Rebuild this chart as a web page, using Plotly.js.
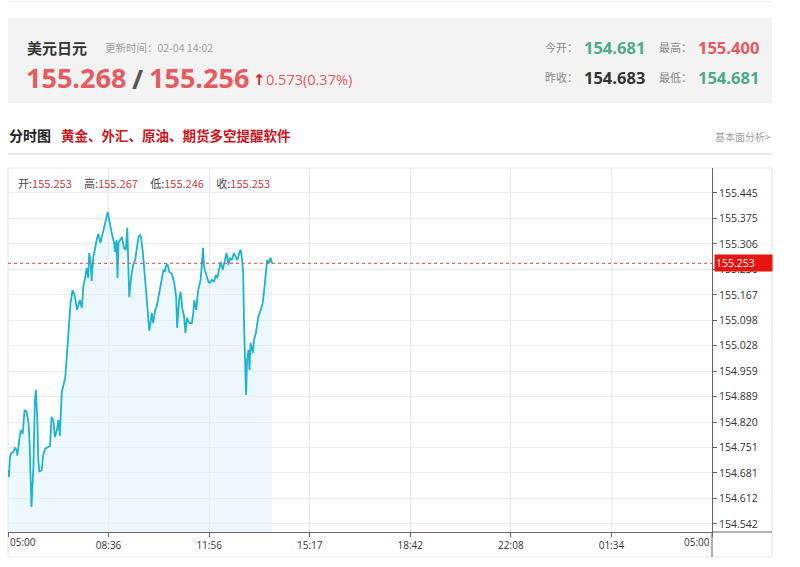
<!DOCTYPE html>
<html>
<head>
<meta charset="utf-8">
<script src="https://cdn.plot.ly/plotly-3.0.1.min.js"></script>
<style>
  html, body { margin: 0; padding: 0; background: #fff; }
  #chart { width: 800px; height: 567px; }
</style>
</head>
<body>
<div id="chart"></div>
<script>
// ---- data (minutes after 05:00, price) ----
const minutes = [
  0, 2, 4, 7, 11, 14, 18, 19, 23, 26,
  30, 34, 38, 42, 44, 46, 48, 52, 55, 57,
  60, 62, 64, 69, 72, 76, 82, 86, 89, 93,
  96, 100, 103, 106, 110, 113, 117, 120, 123, 125,
  128, 132, 134, 137, 141, 144, 147, 151, 154, 158,
  161, 164, 166, 169, 171, 174, 179, 182, 185, 189,
  194, 198, 202, 204, 205, 209, 213, 217, 219, 222,
  224, 226, 229, 233, 237, 241, 244, 248, 252, 256,
  260, 263, 267, 270, 272, 276, 280, 284, 287, 289,
  291, 294, 297, 301, 304, 309, 314, 318, 321, 323,
  326, 330, 335, 340, 344, 346, 350, 353, 357, 360,
  363, 366, 371, 376, 379, 381, 385, 389, 394, 398,
  399, 401, 405, 410, 413, 417, 421, 425, 428, 432,
  435, 439, 444, 447, 451, 454, 458, 462, 466, 469,
  473, 476, 479, 481, 483, 485, 487, 489, 492, 494,
  496, 501, 503, 507, 512, 517, 521, 524, 528, 530,
  534, 537, 540
];
const prices = [
  154.689, 154.670, 154.725, 154.736, 154.738, 154.749, 154.744, 154.728, 154.771, 154.798,
  154.788, 154.853, 154.848, 154.818, 154.771, 154.681, 154.588, 154.698, 154.880, 154.908,
  154.826, 154.717, 154.684, 154.689, 154.730, 154.747, 154.752, 154.755, 154.834, 154.823,
  154.779, 154.798, 154.826, 154.782, 154.902, 154.916, 154.940, 154.995, 155.052, 155.071,
  155.145, 155.180, 155.175, 155.161, 155.126, 155.139, 155.153, 155.131, 155.189, 155.216,
  155.240, 155.213, 155.281, 155.257, 155.205, 155.265, 155.309, 155.322, 155.333, 155.309,
  155.336, 155.363, 155.388, 155.393, 155.385, 155.355, 155.330, 155.309, 155.284, 155.317,
  155.213, 155.309, 155.317, 155.325, 155.295, 155.290, 155.350, 155.161, 155.216, 155.249,
  155.262, 155.290, 155.325, 155.330, 155.325, 155.281, 155.216, 155.161, 155.099, 155.069,
  155.085, 155.118, 155.090, 155.126, 155.134, 155.172, 155.208, 155.235, 155.230, 155.246,
  155.251, 155.230, 155.224, 155.200, 155.161, 155.077, 155.153, 155.175, 155.126, 155.110,
  155.063, 155.104, 155.090, 155.090, 155.118, 155.153, 155.126, 155.180, 155.208, 155.290,
  155.295, 155.243, 155.227, 155.202, 155.200, 155.208, 155.202, 155.221, 155.213, 155.243,
  155.257, 155.235, 155.268, 155.281, 155.249, 155.268, 155.262, 155.281, 155.270, 155.262,
  155.281, 155.290, 155.262, 155.227, 155.080, 154.970, 154.894, 154.989, 155.017, 154.962,
  155.036, 155.009, 155.044, 155.063, 155.107, 155.126, 155.145, 155.180, 155.235, 155.262,
  155.254, 155.268, 155.253
];
const xTickLabels = ["05:00", "08:36", "11:56", "15:17", "18:42", "22:08", "01:34", "05:00"];
const yTickValues = [155.445, 155.375, 155.306, 155.236, 155.167, 155.098, 155.028,
                     154.959, 154.889, 154.820, 154.751, 154.681, 154.612, 154.542];
const lastPrice = 155.253;

// header values
const symbolName = "美元日元";
const updateTime = "更新时间：02-04 14:02";
const bidPrice = "155.268";
const askPrice = "155.256";
const changeText = "0.573(0.37%)";
const todayOpen = "154.681";
const dayHigh = "155.400";
const prevClose = "154.683";
const dayLow = "154.681";
const ohlcLabels = ["开", "高", "低", "收"];
const ohlcValues = ["155.253", "155.267", "155.246", "155.253"];

// ---- layout helpers (pixel -> paper) ----
const L = 8, R = 712, T = 168, B = 532;
const px = x => (x - L) / (R - L);
const py = y => (B - y) / (B - T);

const CN = '"Noto Sans CJK SC", "Noto Sans", sans-serif';
const NUM = '"Open Sans", "Noto Sans CJK SC", sans-serif';
const RED = '#e85a60';
const GREEN = '#4dab87';

const xTickVals = xTickLabels.map((_, i) => i * 1440 / (xTickLabels.length - 1));
const xTickText = xTickLabels.map((t, i) => (i === 0 || i === xTickLabels.length - 1) ? '' : t);

function ann(x, y, text, size, color, family, anchor, extra) {
  return Object.assign({
    xref: 'paper', yref: 'paper', x: px(x), y: py(y),
    xanchor: anchor || 'left', yanchor: 'middle',
    text: text, showarrow: false,
    font: { size: size, color: color, family: family }
  }, extra || {});
}

const ohlcText = ohlcLabels.map((l, i) =>
  l + ':<span style="color:#c8413b">' + ohlcValues[i] + '</span>').join('     ');

const annotations = [
  ann(25, 47, '<b>' + symbolName + '</b>', 15, '#333', CN),
  ann(103, 47, updateTime, 10.5, '#a0a0a0', CN),
  ann(24, 77, '<b>' + bidPrice + '</b>', 27, RED, NUM),
  ann(130, 78, '<b>/</b>', 27, '#555', NUM),
  ann(147, 77, '<b>' + askPrice + '</b>', 27, RED, NUM),
  ann(251, 80, '<b>↑</b>', 15, '#e0201c', '"DejaVu Sans", sans-serif'),
  ann(264, 80, changeText, 14.5, RED, NUM),
  ann(543, 47, '今开：', 11, '#888', CN),
  ann(582, 47, '<b>' + todayOpen + '</b>', 16.5, GREEN, NUM),
  ann(657, 47, '最高：', 11, '#888', CN),
  ann(696, 47, '<b>' + dayHigh + '</b>', 16.5, RED, NUM),
  ann(543, 77, '昨收：', 11, '#888', CN),
  ann(582, 77, '<b>' + prevClose + '</b>', 16.5, '#333', NUM),
  ann(657, 77, '最低：', 11, '#888', CN),
  ann(696, 77, '<b>' + dayLow + '</b>', 16.5, GREEN, NUM),
  ann(7, 135, '<b>分时图</b>', 14, '#222', CN),
  ann(59, 135, '<b>黄金、外汇、原油、期货多空提醒软件</b>', 13.5, '#d0141c', CN),
  ann(773, 136, '基本面分析>', 10, '#a0a0a0', CN, 'right'),
  ann(16, 183, ohlcText, 11, '#444', CN),
  // end tick labels of the x axis
  { xref: 'x', yref: 'paper', x: xTickVals[0], y: py(542), xanchor: 'left', yanchor: 'middle',
    text: xTickLabels[0], showarrow: false, font: { size: 10, color: '#333', family: NUM } },
  { xref: 'x', yref: 'paper', x: xTickVals[xTickVals.length - 1], y: py(542), xanchor: 'right', yanchor: 'middle',
    text: xTickLabels[xTickLabels.length - 1], showarrow: false, font: { size: 10, color: '#333', family: NUM } },
  // last price tag on the right axis
  { xref: 'paper', yref: 'y', x: px(713.5), y: lastPrice, xanchor: 'left', yanchor: 'middle',
    text: lastPrice.toFixed(3), showarrow: false, bgcolor: '#e8140f', width: 55, height: 14,
    align: 'left', borderpad: 1, font: { size: 10.5, color: '#ffffff', family: NUM } }
];

const shapes = [
  // faint top page line
  { type: 'line', xref: 'paper', yref: 'paper', x0: px(8), x1: px(772), y0: py(1.5), y1: py(1.5),
    line: { color: '#eeeeee', width: 1 }, layer: 'below' },
  // header grey box
  { type: 'rect', xref: 'paper', yref: 'paper', x0: px(8), x1: px(772), y0: py(103), y1: py(18),
    fillcolor: '#f3f3f3', line: { width: 0 }, layer: 'below' },
  // separator under section title
  { type: 'line', xref: 'paper', yref: 'paper', x0: px(8), x1: px(772), y0: py(154), y1: py(154),
    line: { color: '#e2e2e2', width: 1.5 }, layer: 'below' },
  // outer chart frame
  { type: 'rect', xref: 'paper', yref: 'paper', x0: px(8), x1: px(772), y0: py(557), y1: py(168),
    line: { color: '#e6e6e6', width: 1 }, fillcolor: 'rgba(0,0,0,0)', layer: 'below' },
  // bottom axis line extension
  { type: 'line', xref: 'paper', yref: 'paper', x0: 1, x1: px(772), y0: 0, y1: 0,
    line: { color: '#666', width: 1 } },
  // right axis line extension
  { type: 'line', xref: 'paper', yref: 'paper', x0: 1, x1: 1, y0: py(557), y1: 0,
    line: { color: '#666', width: 1 } },
  // last price dotted line
  { type: 'line', xref: 'paper', yref: 'y', x0: 0, x1: 1, y0: lastPrice, y1: lastPrice,
    line: { color: '#e8463c', width: 1, dash: 'dot' } }
];

const trace = {
  x: minutes, y: prices, type: 'scatter', mode: 'lines',
  line: { color: '#1cb4cf', width: 1.8 },
  fill: 'tozeroy', fillcolor: 'rgba(222,243,250,0.55)',
  hoverinfo: 'skip'
};

const layout = {
  width: 800, height: 567, autosize: false,
  margin: { l: L, r: 800 - R, t: T, b: 567 - B, pad: 0 },
  paper_bgcolor: '#ffffff', plot_bgcolor: '#ffffff',
  showlegend: false,
  xaxis: {
    range: [0, 1440], tickmode: 'array', tickvals: xTickVals, ticktext: xTickText,
    showgrid: true, gridcolor: '#ececec', gridwidth: 1,
    showline: true, linecolor: '#666', linewidth: 1, mirror: false,
    ticks: 'outside', ticklen: 4, tickcolor: '#666',
    tickfont: { size: 10, color: '#333', family: NUM },
    zeroline: false, fixedrange: true
  },
  yaxis: {
    side: 'right', range: [154.520, 155.513], tickmode: 'array',
    tickvals: yTickValues, ticktext: yTickValues.map(v => v.toFixed(3)),
    showgrid: true, gridcolor: '#ececec', gridwidth: 1,
    showline: true, linecolor: '#666', linewidth: 1,
    ticks: 'outside', ticklen: 4, tickcolor: '#666',
    tickfont: { size: 10.5, color: '#333', family: NUM },
    zeroline: false, fixedrange: true
  },
  shapes: shapes,
  annotations: annotations
};

Plotly.newPlot('chart', [trace], layout, { staticPlot: true, displayModeBar: false });
</script>
</body>
</html>
